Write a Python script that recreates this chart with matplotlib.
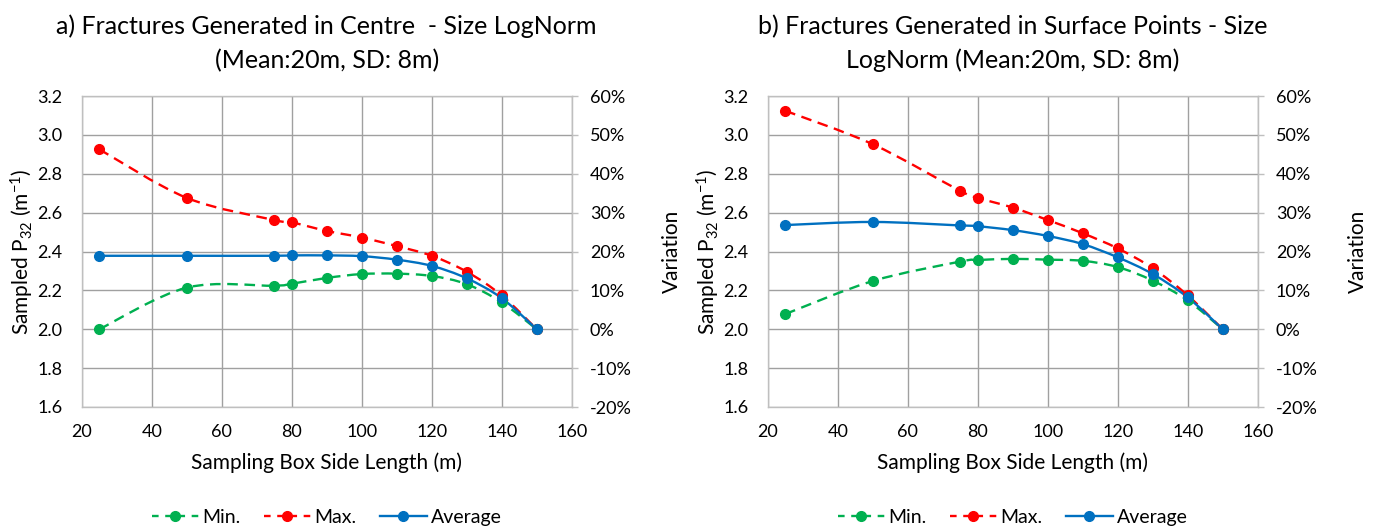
import numpy as np
import matplotlib
matplotlib.use("Agg")
import matplotlib.pyplot as plt
from matplotlib.path import Path
from matplotlib.patches import PathPatch
from matplotlib.lines import Line2D
from matplotlib.ticker import FuncFormatter

plt.rcParams['font.family'] = ['Lato', 'DejaVu Sans']
plt.rcParams['mathtext.default'] = 'regular'

# sampling box side lengths (m)
box_len = [25, 50, 75, 80, 90, 100, 110, 120, 130, 140, 150]

# variation (fraction) - panel a, generated in centre
a_min = [0.0, 0.107, 0.112, 0.117, 0.132, 0.142, 0.143, 0.137, 0.116, 0.069, 0.0]
a_max = [0.463, 0.338, 0.281, 0.275, 0.253, 0.236, 0.214, 0.189, 0.148, 0.087, 0.0]
a_avg = [0.189, 0.189, 0.189, 0.190, 0.190, 0.188, 0.179, 0.163, 0.131, 0.080, 0.0]

# panel b, generated in surface points
b_min = [0.039, 0.124, 0.174, 0.178, 0.181, 0.179, 0.176, 0.160, 0.125, 0.074, 0.0]
b_max = [0.562, 0.476, 0.356, 0.338, 0.313, 0.281, 0.247, 0.208, 0.157, 0.087, 0.0]
b_avg = [0.268, 0.276, 0.267, 0.265, 0.255, 0.240, 0.219, 0.185, 0.142, 0.082, 0.0]

titles = ["a) Fractures Generated in Centre  - Size LogNorm\n(Mean:20m, SD: 8m)",
          "b) Fractures Generated in Surface Points - Size\nLogNorm (Mean:20m, SD: 8m)"]

GREEN = '#00B050'
RED = '#FF0000'
BLUE = '#0070C0'
GRID = '#a0a0a0'
SPINE = '#bfbfbf'
DASH = (0, (4.5, 2.8))


def smooth_path(x, y):
    # Excel-style smoothed line: cubic bezier segments through the points
    pts = np.column_stack([x, y]).astype(float)
    n = len(pts)
    verts = [pts[0]]
    codes = [Path.MOVETO]
    for i in range(n - 1):
        p0 = pts[i - 1] if i > 0 else pts[i]
        p1 = pts[i]
        p2 = pts[i + 1]
        p3 = pts[i + 2] if i + 2 < n else pts[i + 1]
        c1 = p1 + (p2 - p0) / 6.0
        c2 = p2 - (p3 - p1) / 6.0
        verts += [c1, c2, p2]
        codes += [Path.CURVE4] * 3
    return Path(verts, codes)


fig = plt.figure(figsize=(13.73, 5.28), dpi=100)
W, H = 1373, 528
lefts = [81.7, 767.7]

for k, (mn, mx, av) in enumerate([(a_min, a_max, a_avg), (b_min, b_max, b_avg)]):
    ax = fig.add_axes([lefts[k] / W, 1 - 407 / H, 490 / W, 311 / H])
    ax.set_xlim(20, 160)
    ax.set_ylim(1.6, 3.2)
    ax.set_xticks(range(20, 161, 20))
    ax.set_yticks(np.arange(1.6, 3.21, 0.2))
    ax.yaxis.set_major_formatter(FuncFormatter(lambda v, p: f"{v:.1f}"))
    ax.grid(True, color=GRID, lw=1.0)
    ax.set_axisbelow(True)
    ax.tick_params(axis='x', length=0, labelsize=13, pad=12)
    ax.tick_params(axis='y', length=0, labelsize=13, pad=14)
    for s in ax.spines.values():
        s.set_color(SPINE)
        s.set_linewidth(1.0)
    ax.set_xlabel("Sampling Box Side Length (m)", fontsize=15, labelpad=9)
    ax.set_ylabel("Sampled P$_{32}$ (m$^{-1}$)", fontsize=15, labelpad=1)
    ax.set_title(titles[k], fontsize=18, pad=20, linespacing=1.55)

    ax2 = ax.twinx()
    ax2.set_ylim(-0.2, 0.6)
    ax2.set_yticks(np.arange(-0.2, 0.61, 0.1))
    ax2.yaxis.set_major_formatter(FuncFormatter(lambda v, p: f"{v * 100:.0f}%"))
    ax2.tick_params(length=4, width=1, color=SPINE, direction='out', labelsize=13, pad=9)
    for name, s in ax2.spines.items():
        s.set_visible(name == 'right')
    ax2.spines['right'].set_color(SPINE)
    ax2.set_ylabel("Variation", fontsize=15, labelpad=22)

    for vals, col, ls in [(mn, GREEN, DASH), (mx, RED, DASH), (av, BLUE, '-')]:
        ax2.add_patch(PathPatch(smooth_path(box_len, vals), fill=False,
                                edgecolor=col, lw=1.7, linestyle=ls,
                                capstyle='butt', zorder=3))
        ax2.plot(box_len, vals, ls='none', marker='o', ms=7, color=col, zorder=4)

    handles = [Line2D([], [], color=GREEN, ls='--', dashes=(2.8, 2.8), lw=1.7, marker='o', ms=7),
               Line2D([], [], color=RED, ls='--', dashes=(2.8, 2.8), lw=1.7, marker='o', ms=7),
               Line2D([], [], color=BLUE, lw=1.7, marker='o', ms=7)]
    ax.legend(handles, ["Min.", "Max.", "Average"], loc='center',
              bbox_to_anchor=(0.5, -0.354), ncol=3, frameon=False,
              fontsize=14, handlelength=2.4, columnspacing=1.2, handletextpad=0.2)

fig.savefig("out.png", dpi=100)
